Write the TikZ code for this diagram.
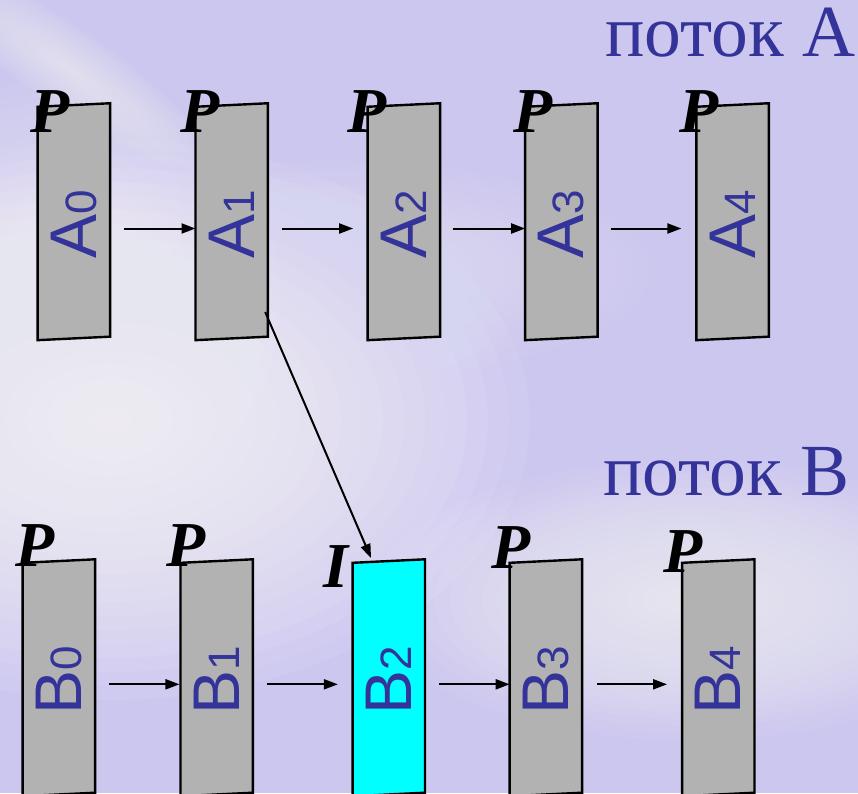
\documentclass[tikz,border=0pt]{standalone}
\usepackage{fontspec}
\newfontfamily\serifru{Liberation Serif}
\newfontfamily\sansf{Liberation Sans}
\usetikzlibrary{arrows.meta}
\definecolor{bg}{RGB}{204,199,238}
\definecolor{txtblue}{RGB}{51,51,153}
\definecolor{framegray}{RGB}{178,178,178}
\definecolor{aqua}{RGB}{0,255,255}
\tikzset{
  frameline/.style={draw=black, line width=2.4pt, line join=miter},
  slot/.style={inner sep=0pt, minimum width=72pt, minimum height=233pt},
  arr/.style={line width=2pt, -{Triangle[length=14pt,width=10pt]}},
  typelbl/.style={font=\serifru\bfseries\itshape\fontsize{64}{64}\selectfont, anchor=base west, inner sep=0pt},
  framelbl/.style={rotate=90, text=txtblue, inner sep=0pt},
  stream/.style={font=\serifru\fontsize{73.5}{73.5}\selectfont, text=txtblue, anchor=base west, inner sep=0pt}
}
\newcommand\myframe[5]{% name, x, y, fill, label
  \node[slot] (#1) at (#2,#3) {};
  \path[frameline, fill=#4] ([yshift=-1.75pt]#1.north west) -- ([yshift=1.75pt]#1.north east)
     -- ([yshift=1.75pt]#1.south east) -- ([yshift=-1.75pt]#1.south west) -- cycle;
  \node[framelbl] (#1lbl) at ([yshift=-2.5pt]#1.center) {#5};
}
\newcommand\flab[2]{{\sansf\fontsize{66}{66}\selectfont #1\fontsize{44}{44}\selectfont #2}}
\newcommand\glow[5]{% x, y, rx, ry, opacity per step
  \foreach \k in {1,...,20}{
    \fill[white, opacity=#5] (#1,#2) ellipse [x radius={#3*\k/20}, y radius={#4*\k/20}];
  }
}
\begin{document}
\begin{tikzpicture}[x=1pt,y=-1pt]
\useasboundingbox (0,0) rectangle (858,793);
\begin{scope}
  \clip (0,0) rectangle (858,793);
  \fill[bg] (0,0) rectangle (858,793);
  \glow{110}{420}{420}{280}{0.065}
  \glow{60}{300}{220}{220}{0.04}
  \glow{690}{600}{320}{140}{0.05}
  \glow{330}{270}{320}{110}{0.025}
  \begin{scope}[rotate around={-35:(70,70)}]
    \glow{70}{70}{170}{40}{0.04}
  \end{scope}
\end{scope}

% top row
\myframe{A0}{73.85}{221.7}{framegray}{\flab{A}{0}}
\myframe{A1}{231.7}{221.7}{framegray}{\flab{A}{1}}
\myframe{A2}{403.85}{221.7}{framegray}{\flab{A}{2}}
\myframe{A3}{561.35}{221.7}{framegray}{\flab{A}{3}}
\myframe{A4}{732.6}{221.7}{framegray}{\flab{A}{4}}
% bottom row
\myframe{B0}{58.85}{677.75}{framegray}{\flab{B}{0}}
\myframe{B1}{216.65}{677.75}{framegray}{\flab{B}{1}}
\myframe{B2}{388.75}{677.75}{aqua}{\flab{B}{2}}
\myframe{B3}{545.85}{677.75}{framegray}{\flab{B}{3}}
\myframe{B4}{718.25}{677.75}{framegray}{\flab{B}{4}}

% arrows top
\draw[arr] ([xshift=14pt,yshift=-6.8pt]A0.east) -- ([yshift=-6.8pt]A1.west);
\draw[arr] ([xshift=14pt,yshift=-6.8pt]A1.east) -- ([xshift=-14.5pt,yshift=-6.8pt]A2.west);
\draw[arr] ([xshift=13pt,yshift=-6.8pt]A2.east) -- ([yshift=-6.8pt]A3.west);
\draw[arr] ([xshift=13pt,yshift=-6.8pt]A3.east) -- ([xshift=-15pt,yshift=-6.8pt]A4.west);
% arrows bottom
\draw[arr] ([xshift=14.3pt,yshift=-6.55pt]B0.east) -- ([xshift=-1pt,yshift=-6.55pt]B1.west);
\draw[arr] ([xshift=14.4pt,yshift=-6.55pt]B1.east) -- ([xshift=-14.7pt,yshift=-6.55pt]B2.west);
\draw[arr] ([xshift=14.5pt,yshift=-6.55pt]B2.east) -- ([yshift=-6.55pt]B3.west);
\draw[arr] ([xshift=15pt,yshift=-6.55pt]B3.east) -- ([xshift=-15pt,yshift=-6.55pt]B4.west);
% diagonal
\draw[arr] ([xshift=-2.7pt,yshift=-90.3pt]A1.east) -- ([xshift=-17.7pt,yshift=3pt]B2.north);

% frame types
\node[typelbl] (pA0) at (30.3,132) {P};
\node[typelbl] (pA1) at (180.3,132) {P};
\node[typelbl] (pA2) at (347,132) {P};
\node[typelbl] (pA3) at (513.6,132) {P};
\node[typelbl] (pA4) at (679.6,132) {P};
\node[typelbl] (pB0) at (15.3,566.7) {P};
\node[typelbl] (pB1) at (166.3,566.7) {P};
\node[typelbl] (iB2) at (323,587) {I};
\node[typelbl] (pB3) at (491,568) {P};
\node[typelbl] (pB4) at (663.6,572) {P};

% stream titles
\node[stream] (sA) at (605,56.7) {поток A};
\node[stream] (sB) at (603,495) {поток B};
\end{tikzpicture}
\end{document}
